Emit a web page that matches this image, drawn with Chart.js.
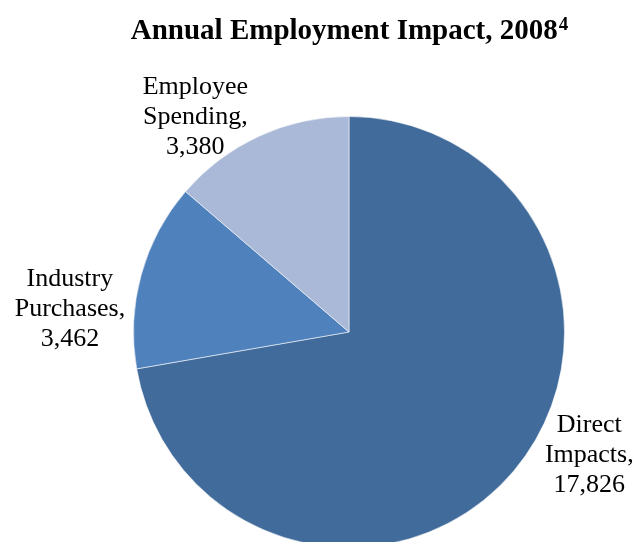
<!DOCTYPE html>
<html>
<head>
<meta charset="utf-8">
<script src="https://cdn.jsdelivr.net/npm/chart.js@4"></script>
<style>
  html, body { margin: 0; padding: 0; background: #fff; overflow: hidden; }
  #wrap { width: 638px; height: 560px; }
</style>
</head>
<body>
<div id="wrap"><canvas id="myChart" width="638" height="560"></canvas></div>
<script>
// Jobs supported, 2008
const categories = ['Direct Impacts', 'Industry Purchases', 'Employee Spending'];
const jobs = [17826, 3462, 3380];
const sliceColors = ['#416B9B', '#4F81BD', '#AAB9D7'];

const chartTitle = 'Annual Employment Impact, 2008';
const titleNote = '4';

// where each label sits, relative to the pie centre (in radii)
const labelOffsets = [
    { dx: 1.115, dy: 0.605 },
    { dx: -1.295, dy: -0.075 },
    { dx: -0.713, dy: -0.965 }
];

const titlePlugin = {
    id: 'titleWithNote',
    afterDraw(chart) {
        const ctx = chart.ctx;
        ctx.save();
        ctx.fillStyle = '#000';
        ctx.textBaseline = 'alphabetic';
        ctx.textAlign = 'left';
        ctx.font = 'bold 29px "Liberation Serif", "Times New Roman", serif';
        const mainW = ctx.measureText(chartTitle).width;
        ctx.font = 'bold 19px "Liberation Serif", "Times New Roman", serif';
        const noteW = ctx.measureText(titleNote).width;
        const x0 = 349 - (mainW + noteW) / 2;
        ctx.font = 'bold 29px "Liberation Serif", "Times New Roman", serif';
        ctx.fillText(chartTitle, x0, 39);
        ctx.font = 'bold 19px "Liberation Serif", "Times New Roman", serif';
        ctx.fillText(titleNote, x0 + mainW + 1, 30);
        ctx.restore();
    }
};

const sliceLabels = {
    id: 'sliceLabels',
    afterDatasetsDraw(chart) {
        const ctx = chart.ctx;
        const meta = chart.getDatasetMeta(0);
        ctx.save();
        ctx.fillStyle = '#000';
        ctx.textAlign = 'center';
        ctx.textBaseline = 'alphabetic';
        ctx.font = '26px "Liberation Serif", "Times New Roman", serif';
        meta.data.forEach((arc, i) => {
            const words = categories[i].split(' ');
            words[words.length - 1] += ',';
            const lines = words.concat(jobs[i].toLocaleString('en-US'));
            const r = arc.outerRadius;
            const cx = arc.x + labelOffsets[i].dx * r;
            const cy = arc.y + labelOffsets[i].dy * r;
            lines.forEach((line, j) => {
                ctx.fillText(line, cx, cy + (j - 1) * 30);
            });
        });
        ctx.restore();
    }
};

const ctx = document.getElementById('myChart').getContext('2d');
const myChart = new Chart(ctx, {
    type: 'pie',
    data: {
        labels: categories,
        datasets: [{
            data: jobs,
            backgroundColor: sliceColors,
            borderColor: 'rgba(255,255,255,0.55)',
            borderWidth: 1
        }]
    },
    options: {
        responsive: false,
        animation: false,
        layout: {
            padding: { left: 133, right: 73, top: 116, bottom: 12 }
        },
        plugins: {
            legend: { display: false },
            tooltip: { enabled: false },
            title: { display: false }
        }
    },
    plugins: [titlePlugin, sliceLabels]
});
</script>
</body>
</html>
